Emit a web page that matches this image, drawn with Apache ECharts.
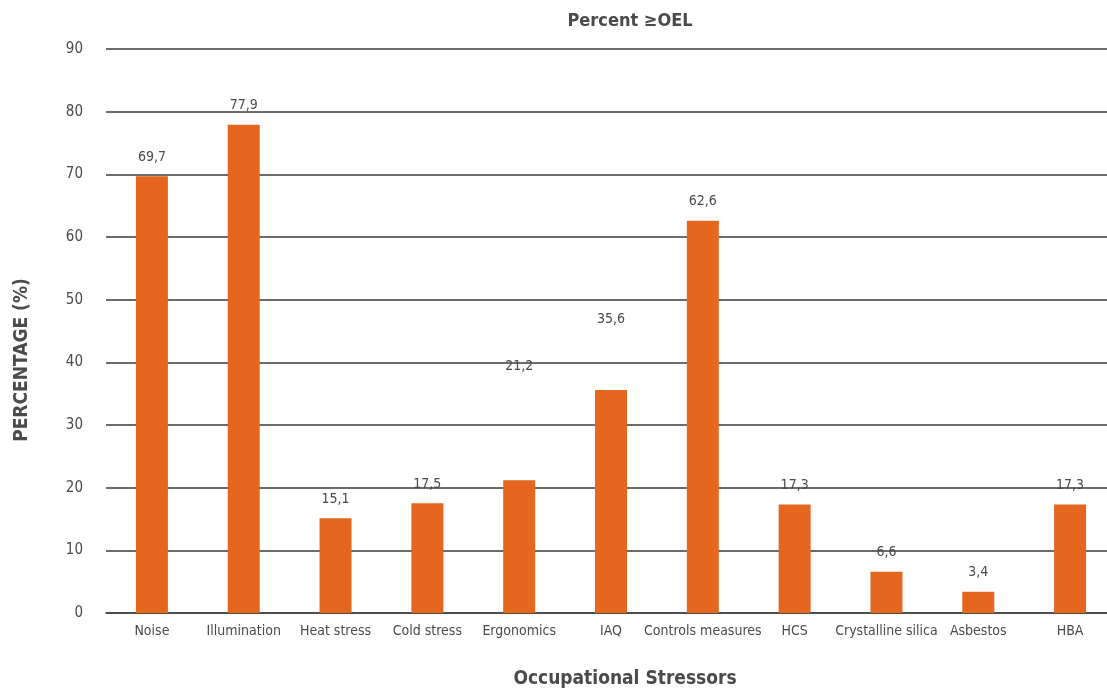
<!DOCTYPE html>
<html>
<head>
<meta charset="utf-8">
<script src="https://cdn.jsdelivr.net/npm/echarts@6/dist/echarts.min.js"></script>
<style>
  html, body { margin: 0; padding: 0; background: #fff; overflow: hidden; }
  #chart { width: 1107px; height: 693px; }
</style>
</head>
<body>
<div id="chart"></div>
<script>
const categories = ['Noise', 'Illumination', 'Heat stress', 'Cold stress', 'Ergonomics', 'IAQ',
  'Controls measures', 'HCS', 'Crystalline silica', 'Asbestos', 'HBA'];
const percentAboveOEL = [69.7, 77.9, 15.1, 17.5, 21.2, 35.6, 62.6, 17.3, 6.6, 3.4, 17.3];
const yTicks = [0, 10, 20, 30, 40, 50, 60, 70, 80, 90];

const FONT = "'Liberation Sans Narrow', 'DejaVu Sans Condensed', 'Roboto', sans-serif";
const TEXT = '#4a4a4a';

// a couple of value labels sit higher above their bars
const labelLift = { 'Ergonomics': 95, 'IAQ': 52 };

const seriesData = percentAboveOEL.map((v, i) => {
  const item = { value: v };
  const lift = labelLift[categories[i]];
  if (lift) item.label = { offset: [0, -lift] };
  return item;
});

const chart = echarts.init(document.getElementById('chart'), null, { renderer: 'canvas' });
chart.setOption({
  animation: false,
  backgroundColor: '#ffffff',
  textStyle: { fontFamily: FONT },
  title: {
    text: 'Percent \u2265OEL',
    left: 625,
    top: 7,
    textAlign: 'center',
    textStyle: { fontFamily: FONT, fontSize: 18, fontWeight: 'bold', color: TEXT }
  },
  grid: { left: 106, top: 49, width: 1010, height: 564, containLabel: false, outerBoundsMode: 'none' },
  xAxis: {
    type: 'category',
    data: categories,
    axisLine: { show: true, lineStyle: { color: '#444', width: 1.5 } },
    axisTick: { show: false },
    axisLabel: { color: TEXT, fontSize: 14, margin: 11, interval: 0, fontFamily: FONT }
  },
  yAxis: {
    type: 'value',
    min: yTicks[0],
    max: yTicks[yTicks.length - 1],
    interval: 10,
    axisLine: { show: false },
    axisTick: { show: false },
    axisLabel: { color: TEXT, fontSize: 15, margin: 23, fontFamily: FONT },
    splitLine: { lineStyle: { color: '#3a3a3a', width: 1.5 } }
  },
  graphic: [
    {
      type: 'text',
      x: 625,
      y: 679,
      style: {
        text: 'Occupational Stressors',
        fill: TEXT,
        font: "bold 19px " + FONT,
        align: 'center',
        verticalAlign: 'middle'
      }
    },
    {
      type: 'text',
      x: 22,
      y: 360,
      rotation: Math.PI / 2,
      style: {
        text: 'PERCENTAGE (%)',
        fill: TEXT,
        font: "bold 19px " + FONT,
        align: 'center',
        verticalAlign: 'middle'
      }
    }
  ],
  series: [{
    type: 'bar',
    data: seriesData,
    barWidth: 32,
    itemStyle: { color: '#E5661F' },
    label: {
      show: true,
      position: 'top',
      distance: 12,
      color: TEXT,
      fontSize: 14,
      fontFamily: FONT,
      formatter: p => String(p.value).replace('.', ',')
    }
  }]
});
</script>
</body>
</html>
